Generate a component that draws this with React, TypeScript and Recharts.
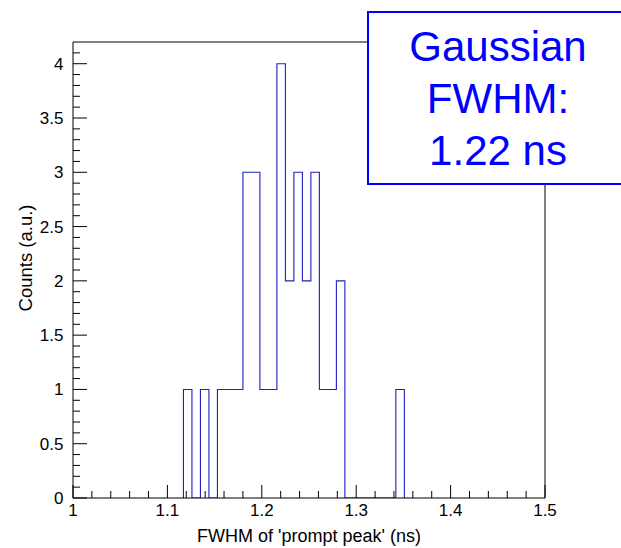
import React from 'react';
import { ComposedChart, Line, XAxis, YAxis, ReferenceLine } from 'recharts';

// histogram bin edges (ns) and counts per bin
const binEdges = [
  1.117, 1.126, 1.135, 1.144, 1.153, 1.162, 1.171, 1.18, 1.189, 1.198, 1.207, 1.216, 1.225,
  1.234, 1.243, 1.252, 1.261, 1.27, 1.279, 1.288, 1.297, 1.306, 1.315, 1.324, 1.333, 1.342,
  1.351,
];
const binCounts = [1, 0, 1, 0, 1, 1, 1, 3, 3, 1, 1, 4, 2, 3, 2, 3, 1, 1, 2, 0, 0, 0, 0, 0, 0, 1];

const xMajorTicks = [1, 1.1, 1.2, 1.3, 1.4, 1.5];
const yMajorTicks = [0, 0.5, 1, 1.5, 2, 2.5, 3, 3.5, 4];
const boxLines = ['Gaussian', 'FWHM:', '1.22 ns'];

const FONT = '"Liberation Sans", Arial, Helvetica, sans-serif';

// minor ticks (ROOT style subdivisions)
const xTicks: number[] = [];
for (let i = 0; i <= 25; i++) xTicks.push(Math.round((1 + i * 0.02) * 100) / 100);
const yTicks: number[] = [];
for (let i = 0; i <= 41; i++) yTicks.push(i / 10);

// step outline: start at 0, one point per bin, drop back to 0
const histData: { x: number; y: number }[] = [{ x: binEdges[0], y: 0 }];
binCounts.forEach((c, i) => histData.push({ x: binEdges[i], y: c }));
histData.push({ x: binEdges[binEdges.length - 1], y: 0 });

const fmt = (v: number) => String(parseFloat(v.toFixed(2)));
const isMajor = (v: number, list: number[]) => list.some((m) => Math.abs(m - v) < 1e-6);

const XTick = (props: any) => {
  const { x, y, payload } = props;
  const major = isMajor(payload.value, xMajorTicks);
  return (
    <g>
      <line x1={x} x2={x} y1={y} y2={y - (major ? 13 : 7)} stroke="#000" strokeWidth={1} />
      {major && (
        <text x={x} y={y + 17.5} textAnchor="middle" fontSize={17} fontFamily={FONT} fill="#000">
          {fmt(payload.value)}
        </text>
      )}
    </g>
  );
};

const YTick = (props: any) => {
  const { x, y, payload } = props;
  const major = isMajor(payload.value, yMajorTicks);
  return (
    <g>
      <line x1={x} x2={x + (major ? 14 : 7)} y1={y} y2={y} stroke="#000" strokeWidth={1} />
      {major && (
        <text x={x - 9.5} y={y + 6} textAnchor="end" fontSize={17} fontFamily={FONT} fill="#000">
          {fmt(payload.value)}
        </text>
      )}
    </g>
  );
};

const App = () => {
  return (
    <div style={{ position: 'relative', width: 621, height: 548, overflow: 'hidden', background: '#fff' }}>
      <style>{'body{margin:0}'}</style>
      <div style={{ position: 'absolute', left: 8, top: 8, width: 613, height: 540, overflow: 'hidden' }}>
        <ComposedChart
          width={613}
          height={540}
          data={histData}
          margin={{ top: 34, right: 76, bottom: 0, left: 0 }}
        >
          <XAxis
            dataKey="x"
            type="number"
            domain={[1, 1.5]}
            ticks={xTicks}
            interval={0}
            tickSize={0}
            tickMargin={0}
            tickLine={false}
            axisLine={{ stroke: '#000' }}
            tick={<XTick />}
            height={50}
            allowDataOverflow
          />
          <YAxis
            type="number"
            domain={[0, 4.2]}
            ticks={yTicks}
            interval={0}
            tickSize={0}
            tickMargin={0}
            tickLine={false}
            axisLine={{ stroke: '#000' }}
            tick={<YTick />}
            width={65}
            allowDataOverflow
          />
          <ReferenceLine y={4.2} stroke="#000" strokeWidth={1} />
          <ReferenceLine x={1.5} stroke="#000" strokeWidth={1} />
          <Line
            dataKey="y"
            type="stepAfter"
            stroke="#2020c0"
            strokeWidth={1.1}
            dot={false}
            activeDot={false}
            isAnimationActive={false}
          />
          <text x={301} y={534} textAnchor="middle" fontSize={18} fontFamily={FONT} fill="#000">
            FWHM of 'prompt peak' (ns)
          </text>
          <text
            transform="translate(24,250) rotate(-90)"
            textAnchor="middle"
            fontSize={18.5}
            fontFamily={FONT}
            fill="#000"
          >
            Counts (a.u.)
          </text>
        </ComposedChart>
        {/* stat box runs off the right edge of the canvas */}
        <div
          style={{
            position: 'absolute',
            left: 359,
            top: 3,
            width: 300,
            height: 174,
            boxSizing: 'border-box',
            border: '2px solid #0000ff',
            background: '#fff',
            paddingTop: 8,
            paddingRight: 38,
            textAlign: 'center',
            fontFamily: FONT,
            fontSize: 42,
            lineHeight: '52px',
            color: '#0000ff',
          }}
        >
          {boxLines.map((t) => (
            <div key={t}>{t}</div>
          ))}
        </div>
      </div>
    </div>
  );
};

export default App;
